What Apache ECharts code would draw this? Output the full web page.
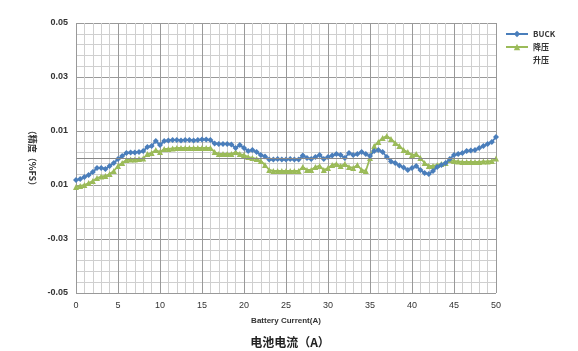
<!DOCTYPE html>
<html>
<head>
<meta charset="utf-8">
<script src="https://cdn.jsdelivr.net/npm/echarts@6/dist/echarts.min.js"></script>
<style>
  html, body { margin: 0; padding: 0; background: #fff; }
  #main { width: 578px; height: 351px; }
</style>
</head>
<body>
<div id="main"></div>
<script>
// 电流 0 ~ 50A，步长 0.5
var currents = [];
for (var i = 0; i <= 100; i++) { currents.push(i / 2); }

var buckValues = [
  -0.00815, -0.00778, -0.00704, -0.0063, -0.00519, -0.0037, -0.0037, -0.00407, -0.00296, -0.00185,
  -0.00037, 0.00074, 0.00185, 0.00204, 0.00204, 0.00222, 0.00259, 0.00407, 0.00444, 0.0063,
  0.00481, 0.0063, 0.00648, 0.00667, 0.00667, 0.00648, 0.00667, 0.00667, 0.00648, 0.00667,
  0.00685, 0.00685, 0.00667, 0.00537, 0.00519, 0.00519, 0.00519, 0.005, 0.0037, 0.00481,
  0.0037, 0.00259, 0.00296, 0.00222, 0.00111, 0.00056, -0.00056, -0.00056, -0.00037, -0.00056,
  -0.00056, -0.00037, -0.00056, -0.00056, 0.00093, 0, -0.00037, 0.00037, 0.00111, -0.00037,
  0.00037, 0.00093, 0.00148, 0.00111, 0, 0.00185, 0.00111, 0.00148, 0.00222, 0.00148,
  0.00074, 0.00259, 0.00296, 0.00222, 0.00037, -0.0013, -0.00185, -0.00278, -0.00352, -0.00444,
  -0.0037, -0.00296, -0.00444, -0.00556, -0.00593, -0.00481, -0.00333, -0.00259, -0.00185, -0.00037,
  0.00111, 0.00148, 0.00185, 0.00259, 0.00278, 0.00296, 0.0037, 0.00444, 0.00519, 0.00593,
  0.00778
];

var jiangyaValues = [
  -0.01074, -0.01037, -0.01, -0.00926, -0.00852, -0.00741, -0.00685, -0.00667, -0.00593, -0.00481,
  -0.00296, -0.00185, -0.00074, -0.00056, -0.00056, -0.00037, -0.00019, 0.00148, 0.00185, 0.00296,
  0.00222, 0.00333, 0.00333, 0.00352, 0.0037, 0.0037, 0.0037, 0.0037, 0.0037, 0.0037,
  0.0037, 0.0037, 0.0037, 0.00222, 0.00148, 0.00148, 0.00148, 0.00148, 0.00222, 0.00148,
  0.00111, 0.00037, 0, -0.00037, -0.00111, -0.00259, -0.00444, -0.00481, -0.00481, -0.00481,
  -0.00481, -0.00481, -0.00481, -0.00481, -0.00333, -0.00444, -0.00444, -0.00333, -0.00296, -0.00444,
  -0.0037, -0.00259, -0.00222, -0.00296, -0.00222, -0.00333, -0.0037, -0.00259, -0.00444, -0.00481,
  0, 0.00444, 0.00593, 0.00741, 0.00815, 0.00704, 0.00556, 0.00444, 0.00296, 0.00222,
  0.00111, 0.00148, 0, -0.00185, -0.00296, -0.00296, -0.00259, -0.00222, -0.00185, -0.00074,
  -0.00111, -0.0013, -0.00148, -0.00148, -0.00148, -0.00148, -0.00148, -0.0013, -0.0013, -0.00111,
  -0.00019
];

// 纵轴刻度文字（按图中原样）
var yTickLabels = ['-0.05', '-0.03', '0.01', '0.01', '0.03', '0.05'];
var seriesNames = ['BUCK', '降压', '升压'];

function pairs(vals) {
  return vals.map(function (v, i) { return [currents[i], v]; });
}

var myChart = echarts.init(document.getElementById('main'));

var option = {
  animation: false,
  title: {
    text: '电池电流（A）',
    left: 285,
    textAlign: 'center',
    top: 331,
    textStyle: { fontSize: 12, fontWeight: 'bold', color: '#222', fontFamily: 'Noto Sans CJK SC' }
  },
  legend: {
    orient: 'vertical',
    left: 500,
    top: 25,
    itemWidth: 22,
    itemHeight: 8,
    itemGap: 5,
    data: seriesNames,
    textStyle: { fontSize: 8, fontWeight: 'bold', color: '#333', fontFamily: 'Noto Sans CJK SC' }
  },
  grid: { left: 76, right: 82, top: 23, bottom: 58 },
  xAxis: {
    type: 'value',
    min: 0,
    max: 50,
    interval: 5,
    name: 'Battery Current(A)',
    nameLocation: 'middle',
    nameGap: 24,
    nameTextStyle: { fontSize: 8, fontWeight: 'bold', color: '#333' },
    axisLine: { show: false },
    axisTick: { show: false },
    axisLabel: { fontSize: 9, color: '#333', margin: 8 },
    splitLine: { show: true, lineStyle: { color: '#999', width: 1 } },
    minorSplitLine: { show: true, lineStyle: { color: '#cfcfcf', width: 1 } },
    minorTick: { show: false, splitNumber: 5 }
  },
  yAxis: {
    type: 'value',
    min: -0.05,
    max: 0.05,
    interval: 0.02,
    name: '（精度（%FS）',
    nameLocation: 'middle',
    nameRotate: -90,
    nameGap: 38,
    nameTextStyle: { fontSize: 9, fontWeight: 'bold', color: '#333', fontFamily: 'Noto Sans CJK SC' },
    axisLine: { show: false },
    axisTick: { show: false },
    axisLabel: {
      fontSize: 9,
      fontWeight: 'bold',
      color: '#333',
      margin: 8,
      formatter: function (value, index) { return yTickLabels[index]; }
    },
    splitLine: { show: true, lineStyle: { color: '#999', width: 1 } },
    minorSplitLine: { show: true, lineStyle: { color: '#cfcfcf', width: 1 } },
    minorTick: { show: false, splitNumber: 5 }
  },
  series: [
    {
      name: seriesNames[0],
      type: 'line',
      data: pairs(buckValues),
      symbol: 'diamond',
      symbolSize: 6,
      itemStyle: { color: '#4a7ebb' },
      lineStyle: { color: '#4a7ebb', width: 1.8 },
      z: 3,
      markLine: {
        silent: true,
        symbol: 'none',
        label: { show: false },
        lineStyle: { color: '#888', width: 1, type: 'solid' },
        data: [{ yAxis: 0 }]
      }
    },
    {
      name: seriesNames[1],
      type: 'line',
      data: pairs(jiangyaValues),
      symbol: 'triangle',
      symbolSize: 6,
      itemStyle: { color: '#9bbb59' },
      lineStyle: { color: '#9bbb59', width: 1.8 },
      z: 2
    },
    {
      name: seriesNames[2],
      type: 'line',
      data: [],
      symbol: 'none',
      itemStyle: { color: 'rgba(0,0,0,0)' },
      lineStyle: { color: 'rgba(0,0,0,0)' }
    }
  ]
};

myChart.setOption(option);
</script>
</body>
</html>
